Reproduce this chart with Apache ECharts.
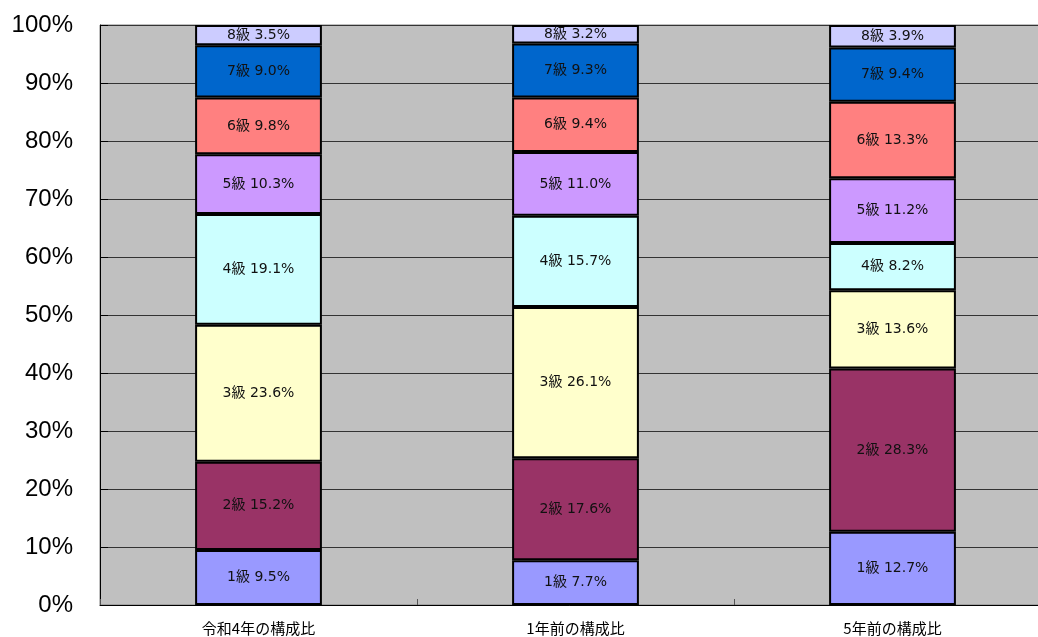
<!DOCTYPE html>
<html><head><meta charset="utf-8">
<script src="https://cdn.jsdelivr.net/npm/echarts@6/dist/echarts.min.js"></script>
<style>html,body{margin:0;padding:0;background:#fff}#c{width:1038px;height:637px}</style>
</head><body><div id="c"></div>
<script>
const categories = ['令和4年の構成比', '1年前の構成比', '5年前の構成比'];
const grades = ['1級','2級','3級','4級','5級','6級','7級','8級'];
const grade1 = [9.5, 7.7, 12.7];
const grade2 = [15.2, 17.6, 28.3];
const grade3 = [23.6, 26.1, 13.6];
const grade4 = [19.1, 15.7, 8.2];
const grade5 = [10.3, 11.0, 11.2];
const grade6 = [9.8, 9.4, 13.3];
const grade7 = [9.0, 9.3, 9.4];
const grade8 = [3.5, 3.2, 3.9];
const yTicks = [0,10,20,30,40,50,60,70,80,90,100];
const colors = ['#9999FF','#993366','#FFFFCC','#CCFFFF','#CC99FF','#FF8080','#0066CC','#CCCCFF'];
const all = [grade1,grade2,grade3,grade4,grade5,grade6,grade7,grade8];
const totals = categories.map((_, i) => all.reduce((s, a) => s + a[i], 0));
const chart = echarts.init(document.getElementById('c'));
chart.setOption({
  animation:false,
  grid:{left:100,width:951,top:25,height:580,outerBoundsMode:'none',containLabel:false,show:true,backgroundColor:'#C0C0C0',borderColor:'#808080',borderWidth:1},
  xAxis:{type:'category',data:categories,
    axisLine:{lineStyle:{color:'#000',width:1}},
    axisTick:{show:true,inside:true,length:6,lineStyle:{color:'#555'}},
    axisLabel:{fontSize:15,color:'#000',fontFamily:'Noto Sans CJK JP',margin:16}},
  yAxis:{type:'value',min:0,max:100,interval:10,
    axisLine:{show:true,lineStyle:{color:'#000'}},
    axisTick:{show:true,inside:true,length:8,lineStyle:{color:'#000'}},
    splitLine:{lineStyle:{color:'#333',width:1}},
    axisLabel:{fontSize:24,color:'#000',fontFamily:'Liberation Sans',margin:27,padding:[6,0,0,0],
      formatter:v=>yTicks.includes(v)?v+'%':''}},
  series: all.map((arr, k) => ({
    name: grades[k], type:'bar', stack:'s', barWidth:'40%',
    data: arr.map((v, i) => ({value: v*100/totals[i], raw: v})),
    itemStyle:{color:colors[k],borderColor:'#000',borderWidth:2},
    label:{show:true,position:'inside',color:'#111',fontSize:14,fontFamily:'"DejaVu Sans", "Noto Sans CJK JP"',
      formatter:p=>grades[k]+' '+p.data.raw.toFixed(1)+'%'}
  }))
});
</script></body></html>
